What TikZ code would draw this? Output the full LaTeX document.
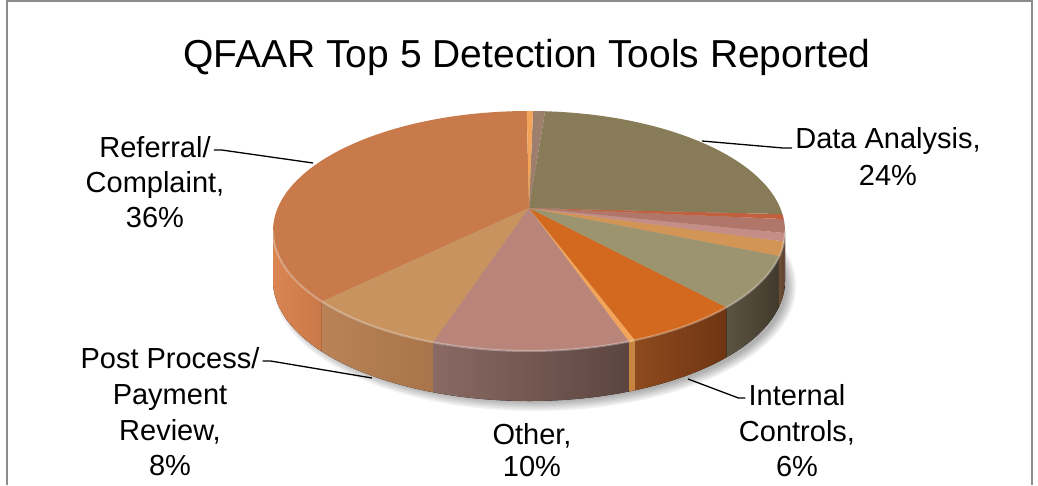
\documentclass[tikz,border=0pt]{standalone}
\usepackage{fontspec}
\setmainfont{Liberation Sans}
\usetikzlibrary{positioning}
\definecolor{framec}{HTML}{8C8C8C}
% top faces
\definecolor{refT}{HTML}{C97A4A}
\definecolor{posT}{HTML}{C8935F}
\definecolor{othT}{HTML}{B98479}
\definecolor{lstT}{HTML}{F2A55A}
\definecolor{intT}{HTML}{D2691E}
\definecolor{oliT}{HTML}{9C946E}
\definecolor{tanT}{HTML}{D39556}
\definecolor{pnkT}{HTML}{C48E86}
\definecolor{rosT}{HTML}{B0766A}
\definecolor{redT}{HTML}{C2603E}
\definecolor{datT}{HTML}{877C57}
\definecolor{mauT}{HTML}{9E7E6C}
% side faces
\definecolor{refL}{HTML}{DA8552}\definecolor{refR}{HTML}{C97848}
\definecolor{posL}{HTML}{B98257}\definecolor{posR}{HTML}{A97449}
\definecolor{othL}{HTML}{8A6A63}\definecolor{othR}{HTML}{5C4540}
\definecolor{lstS}{HTML}{C7853F}
\definecolor{intL}{HTML}{8E4A1E}\definecolor{intR}{HTML}{6E3512}
\definecolor{oliL}{HTML}{5C5442}\definecolor{oliR}{HTML}{413A2C}
\definecolor{tanL}{HTML}{6E4E34}\definecolor{tanR}{HTML}{5E4230}
\definecolor{pnkS}{HTML}{7A5446}
\definecolor{rosS}{HTML}{6E4438}
\tikzset{
  ttl/.style={font=\fontsize{39}{45}\selectfont,inner sep=0pt},
  lbl/.style={font=\fontsize{29}{35}\selectfont,text height=21pt,text depth=7pt,inner sep=3pt},
  ldr/.style={draw=black,line width=1.3pt}
}

\begin{document}
\begin{tikzpicture}[x=1pt,y=-1pt]
\useasboundingbox (0,0) rectangle (1038,485);
\draw[framec,line width=2pt] (7,485) -- (7,1) -- (1032,1) -- (1032,485);
\node[ttl,anchor=base] (title) at (527,67) {QFAAR Top 5 Detection Tools Reported};

% soft shadow under the pie
\foreach \k in {0,...,5}
  \fill[black,opacity=0.06] (535,286) ellipse[x radius={252+1.8*\k},y radius={116+1.8*\k}];

% side walls (front half)
\foreach \s/\e/\cl/\cr in {180/216/refL/refR,216/248/posL/posR,248/293/othL/othR,
    293/294.5/lstS/lstS,294.5/320.5/intL/intR,320.5/348/oliL/oliR,
    348/355/tanL/tanR,355/359/pnkS/pnkS,359/360/rosS/rosS}
  \fill[left color=\cl,right color=\cr] ({529+256*cos(\s)},{231-120*sin(\s)})
    arc[start angle=-\s,end angle=-\e,x radius=256,y radius=120] -- ++(0,50)
    arc[start angle=-\e,end angle=-\s,x radius=256,y radius=120] -- cycle;

% top face
\coordinate (apex) at (529,208);
\foreach \a/\b/\c in {90.5/216/refT,216/248/posT,248/293/othT,293/294.5/lstT,
    294.5/320.5/intT,320.5/348/oliT,348/355/tanT,355/359/pnkT,359/365.7/rosT,
    365.7/368.1/redT,368.1/446.4/datT,446.4/449.1/mauT,449.1/450.5/lstT}
  \fill[\c] (apex) -- ({529+256*cos(\a)},{231-120*sin(\a)})
    arc[start angle=-\a,end angle=-\b,x radius=256,y radius=120] -- cycle;
\draw[white,opacity=0.3,line width=2pt] (273,231)
  arc[start angle=-180,end angle=-360,x radius=256,y radius=120];

% labels
\node[lbl,anchor=base] (refA) at (155,157) {Referral/};
\node[lbl,on grid,below=35pt of refA] (refB) {Complaint,};
\node[lbl,on grid,below=35pt of refB] (refC) {36\%};
\node[lbl,anchor=base] (datA) at (888,148) {Data Analysis,};
\node[lbl,on grid,below=37pt of datA] (datB) {24\%};
\node[lbl,anchor=base] (posA) at (170,368) {Post Process/};
\node[lbl,on grid,below=36pt of posA] (posB) {Payment};
\node[lbl,on grid,below=36pt of posB] (posC) {Review,};
\node[lbl,on grid,below=35pt of posC] (posD) {8\%};
\node[lbl,anchor=base] (othA) at (532,444) {Other,};
\node[lbl,on grid,below=32pt of othA] (othB) {10\%};
\node[lbl,anchor=base] (intA) at (797,405) {Internal};
\node[lbl,on grid,below=36pt of intA] (intB) {Controls,};
\node[lbl,on grid,below=35pt of intB] (intC) {6\%};

% leader lines
\coordinate (pref) at (313,163);
\coordinate (pdat) at (702,141);
\coordinate (ppos) at (372,378);
\coordinate (pint) at (688,379);
\draw[ldr] (refA.east) -- ++(8,0) -- (pref);
\draw[ldr] (datA.base west) -- ++(-9,0) -- (pdat);
\draw[ldr] (posA.east) -- ++(8,0) -- (ppos);
\draw[ldr] (intA.west) -- ++(-7,0) -- (pint);
\end{tikzpicture}
\end{document}
